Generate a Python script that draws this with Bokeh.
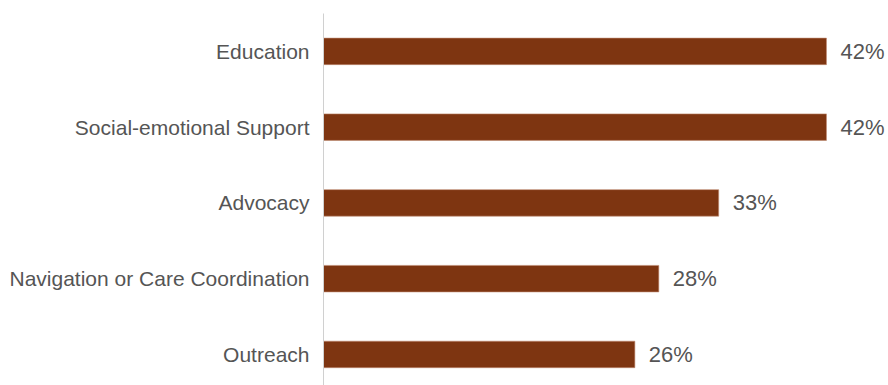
from bokeh.plotting import figure
from bokeh.models import Range1d, FixedTicker, ColumnDataSource
from bokeh.core.properties import value
from bokeh.embed import file_html
from bokeh.resources import INLINE

categories = ["Education", "Social-emotional Support", "Advocacy",
              "Navigation or Care Coordination", "Outreach"]
values = [42, 42, 33, 28, 26]
value_labels = ["42%", "42%", "33%", "28%", "26%"]

n = len(categories)
ypos = [n - 1 - i for i in range(n)]

src = ColumnDataSource(dict(y=ypos, v=values, lab=value_labels))

p = figure(width=888, height=385, output_backend="svg", toolbar_location=None,
           x_range=Range1d(0, 47.18), y_range=Range1d(-0.41, n - 0.5),
           min_border_left=323, min_border_right=0, min_border_top=13,
           min_border_bottom=0, x_axis_location=None)
p.outline_line_color = None
p.xgrid.visible = False
p.ygrid.visible = False

p.hbar(y="y", left=0, right="v", height=0.35, source=src,
       fill_color="#7E3511", line_color="#C08A70", line_width=0.6)

p.text(x="v", y="y", text="lab", source=src, x_offset=14,
       text_align="left", text_baseline="middle",
       text_font=value("Liberation Sans"), text_font_size="22px",
       text_color="#555555")

ax = p.yaxis[0]
ax.ticker = FixedTicker(ticks=ypos)
ax.major_label_overrides = {yy: c for yy, c in zip(ypos, categories)}
ax.major_tick_line_color = None
ax.minor_tick_line_color = None
ax.axis_line_color = "#d0d0d0"
ax.axis_line_width = 1
ax.major_label_standoff = 8
ax.major_label_text_font = "Liberation Sans"
ax.major_label_text_font_size = "21px"
ax.major_label_text_color = "#555555"

open("out.html", "w").write(file_html(p, INLINE))
